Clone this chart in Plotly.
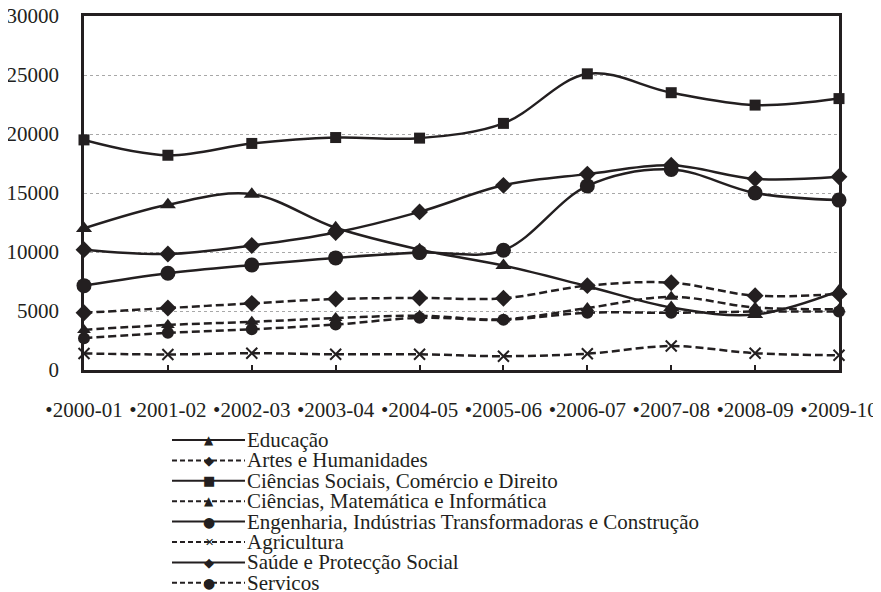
import plotly.graph_objects as go

anos = ["2000-01", "2001-02", "2002-03", "2003-04", "2004-05",
        "2005-06", "2006-07", "2007-08", "2008-09", "2009-10"]
rotulos_x = ["•" + a for a in anos]
ticks_y = [0, 5000, 10000, 15000, 20000, 25000, 30000]

educacao = [12000, 14000, 14900, 12050, 10200, 8850, 7100, 5300, 4700, 6700]
artes = [4850, 5250, 5650, 6020, 6100, 6080, 7150, 7400, 6300, 6450]
ciencias_sociais = [19500, 18200, 19200, 19700, 19650, 20900, 25100, 23500, 22450, 23000]
ciencias_mat = [3400, 3820, 4080, 4400, 4600, 4300, 5250, 6200, 5300, 5150]
engenharia = [7150, 8200, 8900, 9500, 9950, 10150, 15600, 17000, 15000, 14400]
agricultura = [1400, 1320, 1420, 1330, 1330, 1170, 1380, 2030, 1420, 1250]
saude = [10200, 9830, 10550, 11650, 13400, 15650, 16600, 17350, 16200, 16380]
servicos = [2700, 3150, 3450, 3850, 4420, 4250, 4850, 4850, 4950, 4950]

series = [
    ("Educação", educacao, "solid", "triangle-up", 14),
    ("Artes e Humanidades", artes, "dash", "diamond", 13),
    ("Ciências Sociais, Comércio e Direito", ciencias_sociais, "solid", "square", 11),
    ("Ciências, Matemática e Informática", ciencias_mat, "dash", "triangle-up", 12),
    ("Engenharia, Indústrias Transformadoras e Construção", engenharia, "solid", "circle", 15),
    ("Agricultura", agricultura, "dash", "x-thin", 11),
    ("Saúde e Protecção Social", saude, "solid", "diamond", 13),
    ("Servicos", servicos, "dash", "circle", 12),
]

INK = "#231f20"
SERIF = "Liberation Serif"

fig = go.Figure()
for nome, vals, estilo, simb, tam in series:
    dash = "solid" if estilo == "solid" else "8px,4px"
    mk = dict(symbol=simb, size=tam, color=INK)
    if simb == "x-thin":
        mk["line"] = dict(width=2, color=INK)
    fig.add_trace(go.Scatter(
        x=anos, y=vals, name=nome, mode="lines+markers",
        line=dict(color=INK, width=2.5, dash=dash, shape="spline", smoothing=1),
        marker=mk, cliponaxis=False, showlegend=False))

# page offset (body margin) and plot-area geometry in page pixels
OFF = 8
FW, FH = 881, 592
L, R, T, B = 84 - OFF, 839 - OFF, 16 - OFF, 370 - OFF
W, H = R - L, B - T
def px_x(X):  # page pixel -> paper
    return (X - OFF - L) / W
def px_y(Y):
    return (B - (Y - OFF)) / H

glifos = {"triangle-up": ("▲", 12), "diamond": ("◆", 13), "square": ("■", 13),
          "circle": ("●", 14), "x-thin": ("✕", 11)}
shapes = []
annotations = []
for i, (nome, vals, estilo, simb, tam) in enumerate(series):
    yy = 440 + i * 20.4
    shapes.append(dict(type="line", xref="paper", yref="paper",
                       x0=px_x(172), x1=px_x(245), y0=px_y(yy), y1=px_y(yy),
                       line=dict(color=INK, width=2,
                                 dash="solid" if estilo == "solid" else "5px,3px")))
    g, gs = glifos[simb]
    annotations.append(dict(x=px_x(209), y=px_y(yy), xref="paper", yref="paper",
                            text=g, showarrow=False, xanchor="center", yanchor="middle",
                            font=dict(family="DejaVu Sans", size=gs, color=INK)))
    annotations.append(dict(x=px_x(245), y=px_y(yy), xref="paper", yref="paper",
                            text=nome, showarrow=False, xanchor="left", yanchor="middle",
                            font=dict(family=SERIF, size=21, color=INK)))

fig.update_layout(
    width=FW, height=FH,
    margin=dict(l=L, r=FW - R, t=T, b=FH - B, autoexpand=False),
    paper_bgcolor="white", plot_bgcolor="white",
    font=dict(family=SERIF, color=INK),
    shapes=shapes, annotations=annotations,
    xaxis=dict(type="category", range=[0, len(anos) - 1],
               tickvals=anos, ticktext=rotulos_x, automargin=False,
               tickfont=dict(family=SERIF, size=21, color=INK),
               ticks="inside", ticklen=5, tickwidth=2, tickcolor=INK,
               showline=True, linewidth=2.5, linecolor=INK, mirror=True,
               showgrid=False, ticklabelstandoff=19, ticklabeloverflow="allow"),
    yaxis=dict(range=[0, 30000], tickvals=ticks_y, tickformat="d", automargin=False,
               tickfont=dict(family=SERIF, size=21, color=INK),
               ticks="", showline=True, linewidth=2.5, linecolor=INK, mirror=True,
               showgrid=True, gridcolor="#a8a8a8", gridwidth=1, griddash="dot",
               zeroline=False, ticklabelstandoff=18, ticklabeloverflow="allow"),
)

fig.write_html("out.html")
